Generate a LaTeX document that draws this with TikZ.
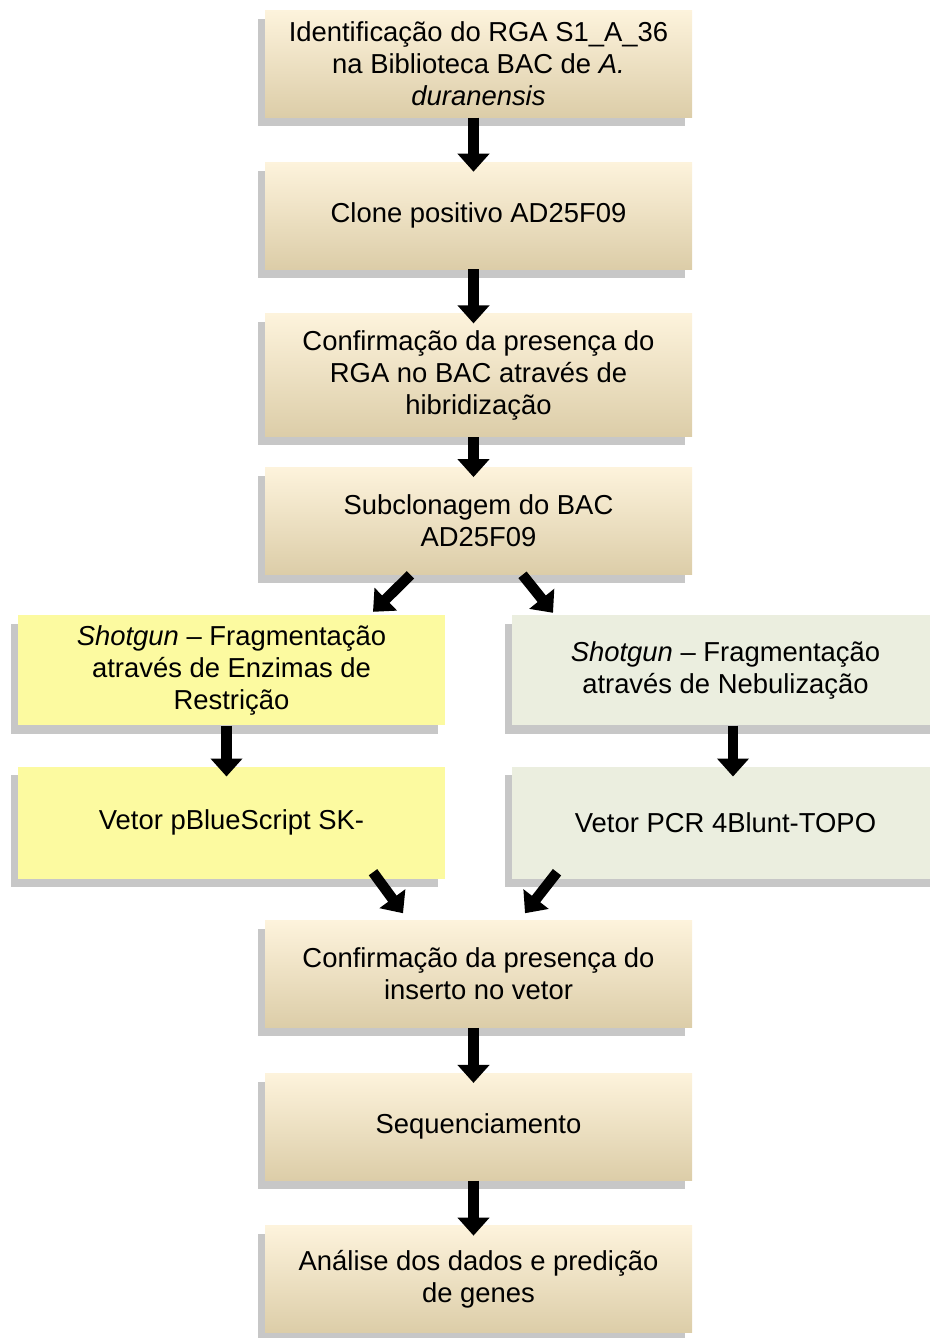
\documentclass[tikz,border=0pt]{standalone}
\usepackage{fontspec}
\setmainfont{Liberation Sans}
\usetikzlibrary{arrows.meta,positioning,shadows}

\definecolor{creamtop}{RGB}{253,243,220}
\definecolor{creambot}{RGB}{220,205,168}
\definecolor{enzfill}{RGB}{252,250,160}
\definecolor{nebfill}{RGB}{235,238,223}

\begin{document}
\begin{tikzpicture}[
    node distance=0.88cm,
    basebox/.style={rectangle, align=center, minimum width=8.54cm, inner sep=2pt,
                    font=\fontsize{15.6pt}{18.2pt}\selectfont,
                    general shadow={fill=black!22, shadow xshift=-0.14cm, shadow yshift=-0.17cm}},
    stepbox/.style={basebox, minimum height=2.14cm, top color=creamtop, bottom color=creambot},
    enzbox/.style={basebox, minimum height=2.2cm, fill=enzfill},
    nebbox/.style={basebox, minimum height=2.2cm, fill=nebfill},
    arrow/.style={-{Triangle[length=0.36cm, width=0.62cm]}, line width=0.21cm},
    into/.style={shorten >=-0.2cm}
  ]
    \useasboundingbox (0,0) rectangle (18.58,-26.76);

    \node[stepbox, anchor=north] (ident) at (9.57,-0.2)
        {Identificação do RGA S1\_A\_36\\na Biblioteca BAC de \textit{A.}\\\textit{duranensis}};
    \node[stepbox, below=of ident] (clone) {Clone positivo AD25F09};
    \node[stepbox, below=of clone, minimum height=2.46cm] (confirm)
        {Confirmação da presença do\\RGA no BAC através de\\hibridização};
    \node[stepbox, below=0.6cm of confirm] (sub) {Subclonagem do BAC\\AD25F09};
    \node[enzbox, below=0.8cm of sub, xshift=-4.94cm] (shotenz)
        {\textit{Shotgun} \textendash{} Fragmentação\\através de Enzimas de\\Restrição};
    \node[nebbox, below=0.8cm of sub, xshift=4.94cm] (shotneb)
        {\textit{Shotgun} \textendash{} Fragmentação\\através de Nebulização};
    \node[enzbox, below=0.82cm of shotenz, minimum height=2.24cm] (vecpbs) {Vetor pBlueScript SK-};
    \node[nebbox, below=0.82cm of shotneb, minimum height=2.24cm] (vectopo) {Vetor PCR 4Blunt-TOPO};
    \coordinate (midrow) at (vecpbs.south -| sub.south);
    \node[stepbox, below=0.82cm of midrow] (confins) {Confirmação da presença do\\inserto no vetor};
    \node[stepbox, below=0.9cm of confins] (seq) {Sequenciamento};
    \node[stepbox, below=0.9cm of seq] (analise) {Análise dos dados e predição\\de genes};

    % setas
    \draw[arrow, into] ([xshift=-0.1cm]ident.south) -- ([xshift=-0.1cm]clone.north);
    \draw[arrow, into] ([xshift=-0.1cm]clone.south) -- ([xshift=-0.1cm]confirm.north);
    \draw[arrow, into] ([xshift=-0.1cm]confirm.south) -- ([xshift=-0.1cm]sub.north);
    \draw[arrow] ([xshift=-1.36cm]sub.south) -- ([xshift=2.83cm, yshift=0.06cm]shotenz.north);
    \draw[arrow] ([xshift=0.88cm]sub.south) -- ([xshift=-3.45cm, yshift=0.04cm]shotneb.north);
    \draw[arrow, into] ([xshift=-0.1cm]shotenz.south) -- ([xshift=-0.1cm]vecpbs.north);
    \draw[arrow, into] ([xshift=0.15cm]shotneb.south) -- ([xshift=0.15cm]vectopo.north);
    \draw[arrow] ([xshift=2.83cm, yshift=0.14cm]vecpbs.south) -- ([xshift=-1.51cm, yshift=0.14cm]confins.north);
    \draw[arrow] ([xshift=-3.37cm, yshift=0.14cm]vectopo.south) -- ([xshift=0.93cm, yshift=0.14cm]confins.north);
    \draw[arrow, into] ([xshift=-0.1cm]confins.south) -- ([xshift=-0.1cm]seq.north);
    \draw[arrow, into] ([xshift=-0.1cm]seq.south) -- ([xshift=-0.1cm]analise.north);
\end{tikzpicture}
\end{document}
